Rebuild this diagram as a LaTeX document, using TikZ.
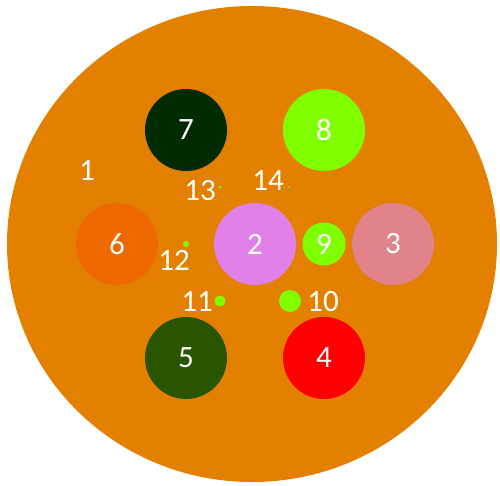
\documentclass[tikz,border=0pt]{standalone}
\usepackage{fontspec}
\setmainfont{Carlito}
\definecolor{bg}{RGB}{227,128,0}
\definecolor{cSeven}{RGB}{0,42,0}
\definecolor{cFive}{RGB}{42,85,0}
\definecolor{cLime}{RGB}{127,255,0}
\definecolor{cSix}{RGB}{238,106,0}
\definecolor{cTwo}{RGB}{224,128,232}
\definecolor{cThree}{RGB}{224,131,139}
\definecolor{cFour}{RGB}{255,0,0}
\tikzset{
  blob/.style={circle,inner sep=0pt,minimum size=#1,text=white,font=\fontsize{31}{31}\selectfont},
  lbl/.style={inner sep=0pt,text=white,font=\fontsize{31}{31}\selectfont},
  dot/.style={circle,inner sep=0pt,minimum size=#1,fill=cLime}
}
\begin{document}
\begin{tikzpicture}[x=1pt,y=-1pt]
\useasboundingbox (0,0) rectangle (500,485);
\fill[bg] (252,244) ellipse [x radius=245, y radius=238];
\node[blob=82pt,fill=cSeven] (n7) at (186,130) {7};
\node[blob=82pt,fill=cLime] (n8) at (324,130) {8};
\node[blob=82pt,fill=cSix] (n6) at (117,244) {6};
\node[blob=82pt,fill=cTwo] (n2) at (255,244) {2};
\node[blob=43pt,fill=cLime] (n9) at (324,244) {9};
\node[blob=82pt,fill=cThree] (n3) at (393,244) {3};
\node[blob=82pt,fill=cFive] (n5) at (186,358) {5};
\node[blob=82pt,fill=cFour] (n4) at (324,358) {4};
\node[dot=22pt] (d10) at (290,301) {};
\node[dot=11pt] (d11) at (220,301) {};
\node[dot=6pt] (d12) at (186,244) {};
\node[dot=3pt] (d13) at (220,187) {};
\node[dot=2pt] (d14) at (289,187) {};
\node[lbl] (l1) at (87,171) {1};
\node[lbl] (l13) at (200,191) {13};
\node[lbl] (l14) at (268,181) {14};
\node[lbl] (l12) at (174,260) {12};
\node[lbl] (l11) at (197,302) {11};
\node[lbl] (l10) at (323,302) {10};
\end{tikzpicture}
\end{document}
